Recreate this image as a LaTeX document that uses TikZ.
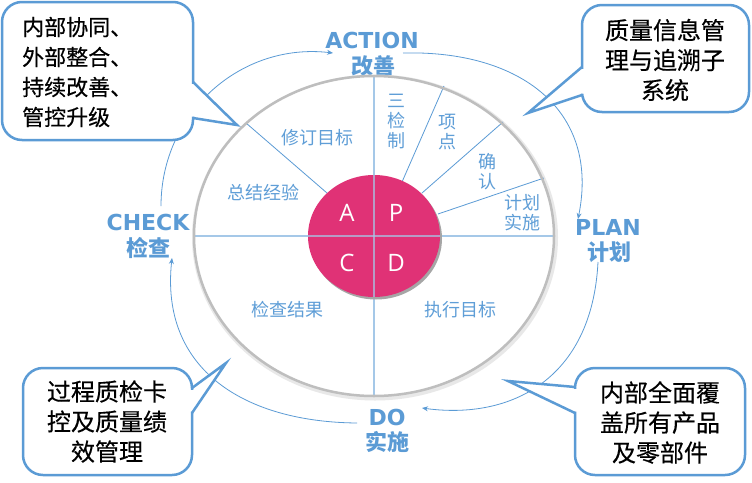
\documentclass[tikz,border=0pt]{standalone}
\usepackage{fontspec}
\setmainfont{Open Sans}
\newfontfamily\cjk{Noto Sans CJK SC}
\newfontfamily\cjkm{Noto Sans CJK SC}[FakeBold=0.4]
\newfontfamily\dejavu{DejaVu Sans}
\usetikzlibrary{arrows.meta}
\definecolor{cblue}{RGB}{91,155,213}
\definecolor{ctext}{RGB}{95,158,215}
\definecolor{clight}{RGB}{165,200,232}
\definecolor{cmag}{RGB}{224,50,118}
\definecolor{cgray}{RGB}{190,190,190}
\tikzset{
 arcline/.style={draw=cblue, line width=0.8pt, -{Stealth[length=6pt,width=5pt]}},
 radial/.style={draw=cblue, line width=0.8pt},
 axisline/.style={draw=clight, line width=2pt},
 intext/.style={text=ctext, font=\cjk\fontsize{18}{20}\selectfont, align=center, inner sep=0pt},
 pdcaletter/.style={text=white, font=\fontsize{24}{24}\selectfont, inner sep=0pt},
 phase/.style={text=cblue, font=\dejavu\bfseries\fontsize{22}{22}\selectfont, inner sep=0pt},
 phasecn/.style={text=cblue, font=\cjk\bfseries\fontsize{22}{22}\selectfont, inner sep=0pt},
 callbox/.style={draw=cblue, line width=2.5pt, fill=white, rounded corners=20pt},
 callptr/.style={draw=cblue, line width=2.5pt, line join=miter},
 calltext/.style={font=\cjkm\fontsize{24}{30}\selectfont, align=center, inner sep=0pt, text=black},
}
\begin{document}
\begin{tikzpicture}[x=1pt,y=-1pt]
\useasboundingbox (0,0) rectangle (752,482);
\fill[white] (0,0) rectangle (752,482);

% phase labels
\node[phase]   (action)   at (372,40)  {ACTION};
\node[phasecn] (actioncn) at (373,66)  {改善};
\node[phase]   (check)    at (148,222) {CHECK};
\node[phasecn] (checkcn)  at (148,248) {检查};
\node[phase]   (plan)     at (608,227) {PLAN};
\node[phasecn] (plancn)   at (609,252) {计划};
\node[phase]   (do)       at (387,417) {DO};
\node[phasecn] (docn)     at (387,442) {实施};

% cycle arcs
\coordinate (c1s) at (161,206);
\coordinate (c1e) at (333,53);
\coordinate (c2s) at (403,53);
\coordinate (c2e) at (578,219);
\coordinate (c3s) at (598,262);
\coordinate (c3e) at (422,408);
\coordinate (c4s) at (357,423);
\coordinate (c4e) at (172,258);
\draw[arcline] (c1s) .. controls (161,113) and (240.6,42.2) .. (c1e);
\draw[arcline] (c2s) .. controls (520,50) and (600,110) .. (c2e);
\draw[arcline] (c3s) .. controls (592,380) and (510,420) .. (c3e);
\draw[arcline] (c4s) .. controls (245,422) and (160,370) .. (c4e);

% main ellipse
\coordinate (ctr) at (374,236);
\draw[gray!18, line width=6pt] (375,237.5) ellipse [x radius=180pt, y radius=160pt];
\fill[white] (ctr) ellipse [x radius=180pt, y radius=160pt];

% radial lines
\draw[radial] (327,193) -- (246,123);
\draw[radial] (402,182) -- (444,86);
\draw[radial] (422,193) -- (503,122);
\draw[radial] (438,214) -- (544,178);
\draw[axisline] (374,76) -- (374,396);
\draw[axisline] (194,236) -- (554,236);

% centre disc
\fill[gray!70] (376,238.5) ellipse [x radius=66pt, y radius=61pt];
\fill[cmag] (ctr) ellipse [x radius=66pt, y radius=61pt];
\draw[clight, line width=2pt, opacity=0.7] (374,175) -- (374,297);
\draw[clight, line width=2pt, opacity=0.7] (308,236) -- (440,236);
\draw[cgray, line width=2.5pt] (ctr) ellipse [x radius=180pt, y radius=160pt];

\node[pdcaletter] (lA) at (347,213) {A};
\node[pdcaletter] (lP) at (396,213) {P};
\node[pdcaletter] (lC) at (347,263) {C};
\node[pdcaletter] (lD) at (396,263) {D};

% texts in ellipse
\node[intext] (t1) at (317,138) {修订目标};
\node[intext] (t2) at (263,193) {总结经验};
\node[intext] (t3) at (396,122) {三\\检\\制};
\node[intext] (t4) at (447,132) {项\\点};
\node[intext] (t5) at (487,172) {确\\认};
\node[intext] (t6) at (522,212.5) {计划\\实施};
\node[intext] (t7) at (287,310) {检查结果};
\node[intext] (t8) at (460,310) {执行目标};

% callout 1 (top left)
\draw[callbox] (2,2) rectangle (193,140);
\fill[white] (189.5,84) -- (195,84) -- (237,125) -- (195,116.5) -- (189.5,116.5) -- cycle;
\draw[callptr] (193,82) -- (237,125) -- (193,118);
\node[calltext, align=left, anchor=west, font=\cjkm\fontsize{22}{30}\selectfont] (b1) at (22,72)
 {内部协同、\\外部整合、\\持续改善、\\管控升级};

% callout 2 (top right)
\draw[callbox] (582,5) rectangle (749,112);
\fill[white] (585.5,69) -- (580,69) -- (528,113) -- (580,93.5) -- (585.5,93.5) -- cycle;
\draw[callptr] (582,67) -- (528,113) -- (582,95);
\node[calltext] (b2) at (665,60) {质量信息管\\理与追溯子\\系统};

% callout 3 (bottom left)
\draw[callbox] (23,368) rectangle (192,475);
\fill[white] (188.5,390) -- (194,390) -- (226,363) -- (194,411.5) -- (188.5,411.5) -- cycle;
\draw[callptr] (192,388) -- (226,363) -- (192,413);
\node[calltext] (b3) at (107,421.5) {过程质检卡\\控及质量绩\\效管理};

% callout 4 (bottom right)
\draw[callbox] (575,368) rectangle (745,475);
\fill[white] (578.5,389) -- (573,389) -- (508,381) -- (573,411.5) -- (578.5,411.5) -- cycle;
\draw[callptr] (575,387) -- (508,381) -- (575,413);
\node[calltext] (b4) at (660,422.5) {内部全面覆\\盖所有产品\\及零部件};
\end{tikzpicture}
\end{document}
